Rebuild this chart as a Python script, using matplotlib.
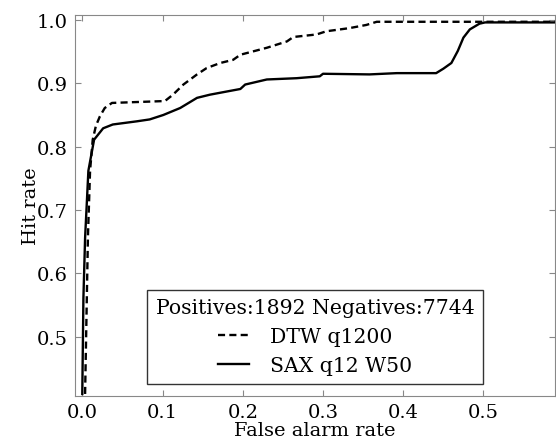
import numpy as np
import matplotlib
matplotlib.use('Agg')
import matplotlib.pyplot as plt

# ---------------- DATA ----------------
sax_far = [0.0, 0.0014, 0.0035, 0.0076, 0.0147, 0.026, 0.038, 0.068, 0.084, 0.101,
           0.122, 0.143, 0.159, 0.180, 0.197, 0.203, 0.230, 0.267, 0.296, 0.300,
           0.358, 0.392, 0.441, 0.450, 0.460, 0.468, 0.475, 0.483, 0.495, 0.502, 0.59]
sax_hit = [0.41, 0.561, 0.656, 0.762, 0.811, 0.829, 0.835, 0.840, 0.843, 0.850,
           0.861, 0.877, 0.882, 0.887, 0.891, 0.898, 0.906, 0.908, 0.911, 0.915,
           0.914, 0.916, 0.916, 0.923, 0.932, 0.951, 0.972, 0.985, 0.994, 0.996, 0.996]

dtw_far = [0.0035, 0.007, 0.0097, 0.013, 0.017, 0.022, 0.028, 0.037, 0.103, 0.113,
           0.126, 0.143, 0.155, 0.172, 0.188, 0.197, 0.230, 0.255, 0.263, 0.292,
           0.304, 0.333, 0.354, 0.367, 0.59]
dtw_hit = [0.41, 0.656, 0.762, 0.811, 0.833, 0.848, 0.861, 0.869, 0.872, 0.882,
           0.898, 0.914, 0.924, 0.932, 0.937, 0.945, 0.956, 0.966, 0.973, 0.977,
           0.982, 0.987, 0.992, 0.997, 0.997]

legend_title = "Positives:1892 Negatives:7744"
labels = ["DTW q1200", "SAX q12 W50"]

# ---------------- PLOT ----------------
plt.rcParams['font.family'] = ['DejaVu Serif']
plt.rcParams['font.size'] = 14

fig = plt.figure(figsize=(5.56, 4.39), dpi=100)
ax = fig.add_axes([0.135, 0.096, 0.863, 0.868])

ax.plot(dtw_far, dtw_hit, color='black', linestyle='--', dashes=(3, 1.8),
        linewidth=1.7, label=labels[0])
ax.plot(sax_far, sax_hit, color='black', linestyle='-', linewidth=1.7, label=labels[1])

ax.set_xlim(-0.009, 0.589)
ax.set_ylim(0.407, 1.008)
ax.set_xticks([0.0, 0.1, 0.2, 0.3, 0.4, 0.5])
ax.set_yticks([0.5, 0.6, 0.7, 0.8, 0.9, 1.0])
ax.set_xlabel("False alarm rate", labelpad=0)
ax.set_ylabel("Hit rate", labelpad=-2)

for s in ax.spines.values():
    s.set_color('#888888')
ax.tick_params(direction='in', top=True, right=True, length=4, color='#888888',
               labelsize=14, pad=5)

leg = ax.legend(title=legend_title, loc='lower center', fancybox=False,
                frameon=True, edgecolor='black', fontsize=14.7, title_fontsize=14.7,
                handlelength=1.5, handletextpad=1.05, borderaxespad=0.6,
                labelspacing=0.5, borderpad=0.4)
leg.get_frame().set_linewidth(1.0)

fig.savefig("out.png", dpi=100)
